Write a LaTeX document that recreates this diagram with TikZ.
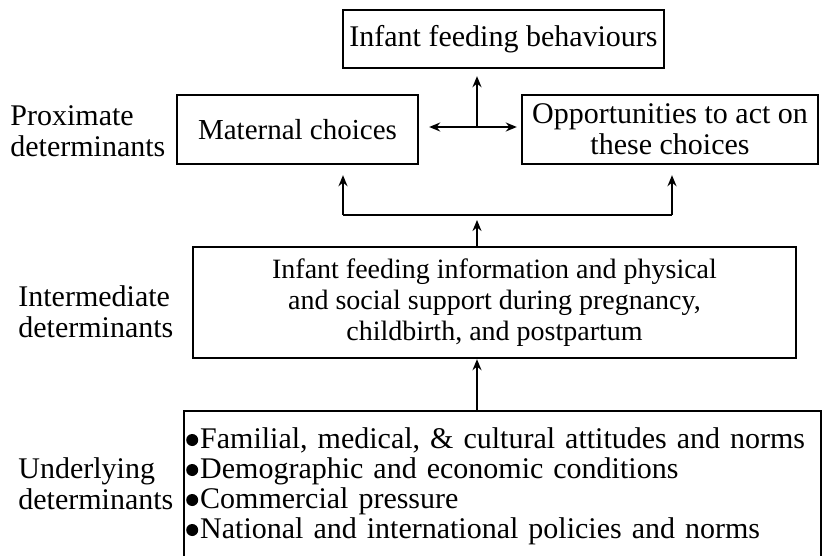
\documentclass[tikz,border=0pt]{standalone}
\usepackage{fontspec}
\setmainfont{Liberation Serif}
\usetikzlibrary{arrows.meta, positioning, calc}

\newcommand{\blt}{\makebox[6pt][l]{\hspace{-1pt}\raisebox{1.2pt}{\tikz\fill (0,0) circle (3pt);}}}

\tikzset{
  box/.style={draw, line width=1.2pt, inner sep=2pt, align=center},
  level/.style={anchor=west, align=left, inner sep=0pt},
  link/.style={line width=1.1pt, -{Stealth[length=5.5pt, width=4.5pt]}},
}

\begin{document}
\begin{tikzpicture}[x=0.5pt, y=-0.5pt, font=\fontsize{15}{15.5}\selectfont]
      \useasboundingbox (0,0) rectangle (826,556);
      % Proximate level
      \node[box, minimum width=160.5pt, minimum height=29pt] (beh) at (503.5,39) {Infant feeding behaviours};
      \node[box, minimum width=120.5pt, minimum height=34.5pt, font=\fontsize{14.5}{15.5}\selectfont] (mat) at (297.5,129.5) {Maternal choices};
      \node[box, minimum width=148pt, minimum height=34.5pt] (opp) at (670,129.5) {Opportunities to act on\\these choices};
      \node[level] (prox) at (10,131) {Proximate\\determinants};
      % Intermediate level
      \node[box, minimum width=301.5pt, minimum height=55.5pt, font=\fontsize{14}{15.5}\selectfont] (info) at (494.5,302.5)
        {Infant feeding information and physical\\and social support during pregnancy,\\childbirth, and postpartum};
      \node[level] (inter) at (18,312) {Intermediate\\determinants};
      % Underlying level
      \node[box, align=left, text width=314.5pt, minimum height=75pt, anchor=north west, font=\fontsize{15}{15}\selectfont] (und) at (183,410)
        {\blt Familial, medical, \& cultural attitudes and norms\\
         \blt Demographic and economic conditions\\
         \blt Commercial pressure\\
         \blt National and international policies and norms};
      \node[level] (base) at (18,484) {Underlying\\determinants};
      % Connectors
      \coordinate (joint) at (477,127);
      \coordinate (mid) at (477,215);
      \coordinate (forkl) at (343,215);
      \coordinate (forkr) at (672,215);
      \draw[link, {Stealth[length=5.5pt, width=4.5pt]}-{Stealth[length=5.5pt, width=4.5pt]}, shorten <=5pt, shorten >=2pt]
        (mat.east |- joint) -- (opp.west |- joint);
      \draw[link, shorten >=3.5pt] (joint) -- (joint |- beh.south);
      \draw[line width=1.1pt] (forkl) -- (forkr);
      \draw[link, shorten >=5pt] (forkl) -- (forkl |- mat.south);
      \draw[link, shorten >=5pt] (forkr) -- (forkr |- opp.south);
      \draw[link, shorten >=2.5pt] (mid |- info.north) -- (mid);
      \draw[link, line width=0.8pt] (mid |- und.north) -- (mid |- info.south);
\end{tikzpicture}
\end{document}
